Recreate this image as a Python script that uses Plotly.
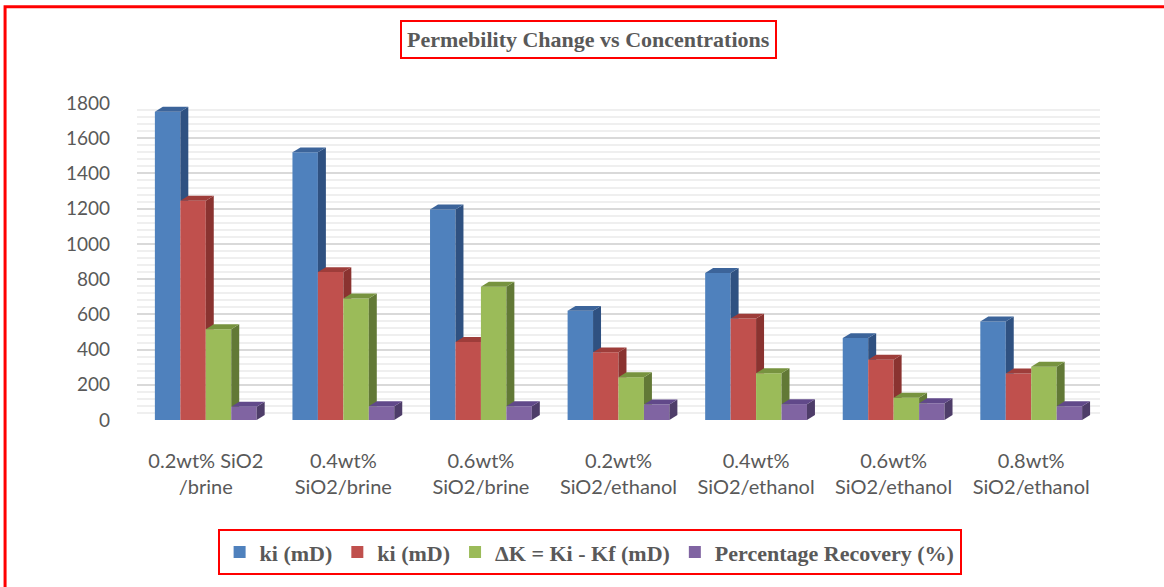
import plotly.graph_objects as go

categories = ["0.2wt% SiO2<br>/brine", "0.4wt%<br>SiO2/brine", "0.6wt%<br>SiO2/brine",
              "0.2wt%<br>SiO2/ethanol", "0.4wt%<br>SiO2/ethanol", "0.6wt%<br>SiO2/ethanol",
              "0.8wt%<br>SiO2/ethanol"]
series_names = ["ki (mD)", "ki (mD)", "ΔK = Ki - Kf (mD)", "Percentage Recovery (%)"]
ki_a = [1750, 1520, 1195, 620, 835, 465, 560]
ki_b = [1245, 840, 443, 384, 576, 342, 264]
delta_k = [515, 690, 757, 243, 266, 127, 303]
recovery = [75, 78, 78, 88, 90, 95, 78]
y_ticks = [0, 200, 400, 600, 800, 1000, 1200, 1400, 1600, 1800]

front_colors = ["#4F81BD", "#C0504D", "#9BBB59", "#8064A2"]
side_colors = ["#2F5181", "#8A3330", "#627936", "#4E3D69"]
top_colors = ["#3C649A", "#9E3D3A", "#77933F", "#61498A"]

all_series = [ki_a, ki_b, delta_k, recovery]
xs = list(range(len(categories)))

fig = go.Figure()
for name, vals, col in zip(series_names, all_series, front_colors):
    fig.add_trace(go.Bar(x=xs, y=vals, name=name, marker=dict(color=col, line=dict(width=0))))

bargap = 0.26
group_w = 1 - bargap
bw = group_w / len(all_series)
dx = 0.058
dy = 28

shapes = []
for i in xs:
    for k, vals in enumerate(all_series):
        v = vals[i]
        x0 = i - group_w / 2 + bw * k
        x1 = x0 + bw
        nxt = all_series[k + 1][i] if k + 1 < len(all_series) else None
        # side face
        yc = 0 if nxt is None else nxt
        pts = None
        if yc < v:
            pts = [(x1, yc), (x1, v), (x1 + dx, v + dy), (x1 + dx, max(yc, dy)),
                   (x1 + dx * min(yc, dy) / dy, yc)]
        elif yc < v + dy:
            pts = [(x1 + dx * (yc - v) / dy, yc), (x1 + dx, v + dy), (x1 + dx, yc)]
        if pts:
            path = "M " + " L ".join(f"{a},{b}" for a, b in pts) + " Z"
            shapes.append(dict(type="path", path=path, xref="x", yref="y",
                               fillcolor=side_colors[k], line=dict(width=0), layer="above"))
        # top face
        if nxt is not None and nxt > v + dy / 2:
            tp = [(x0, v), (x1, v), (x1, v + dy), (x0 + dx, v + dy)]
        else:
            tp = [(x0, v), (x1, v), (x1 + dx, v + dy), (x0 + dx, v + dy)]
        path = "M " + " L ".join(f"{a},{b}" for a, b in tp) + " Z"
        shapes.append(dict(type="path", path=path, xref="x", yref="y",
                           fillcolor=top_colors[k], line=dict(width=0), layer="above"))

# outer red frame
shapes.append(dict(type="rect", xref="paper", yref="paper", x0=-0.137, x1=1.2, y0=-0.7, y1=1.304,
                   line=dict(color="#FF0000", width=3), fillcolor="rgba(0,0,0,0)", layer="above"))

fig.update_layout(
    width=1164, height=587,
    margin=dict(l=137, r=64, t=103, b=165),
    paper_bgcolor="white", plot_bgcolor="white",
    barmode="group", bargap=bargap, bargroupgap=0,
    shapes=shapes,
    showlegend=True,
    legend=dict(orientation="h", x=0.47, xanchor="center", y=-0.417, yanchor="middle",
                bordercolor="#FF0000", borderwidth=2,
                font=dict(family="Liberation Serif", size=22, color="#595959", weight="bold"),
                itemwidth=30, traceorder="normal"),
    annotations=[dict(text="<b>Permebility Change vs Concentrations</b>", xref="paper", yref="paper",
                      x=0.469, y=1.2, xanchor="center", yanchor="middle", showarrow=False,
                      font=dict(family="Liberation Serif", size=22, color="#595959"),
                      bordercolor="#FF0000", borderwidth=2, borderpad=5)],
    xaxis=dict(range=[-0.5, 6.5], tickvals=xs, ticktext=categories, showgrid=False, zeroline=False,
               showline=False, ticks="", ticklabelstandoff=27,
               tickfont=dict(family="Lato", size=20, color="#595959")),
    yaxis=dict(range=[0, 1800], tickvals=y_ticks, showgrid=True, gridcolor="#D9D9D9", gridwidth=2,
               zeroline=False, showline=False, ticks="", ticklabelstandoff=26,
               tickfont=dict(family="Lato", size=19, color="#595959"),
               minor=dict(dtick=40, showgrid=True, gridcolor="#EFEFEF", gridwidth=2)),
)

fig.write_html("out.html")
